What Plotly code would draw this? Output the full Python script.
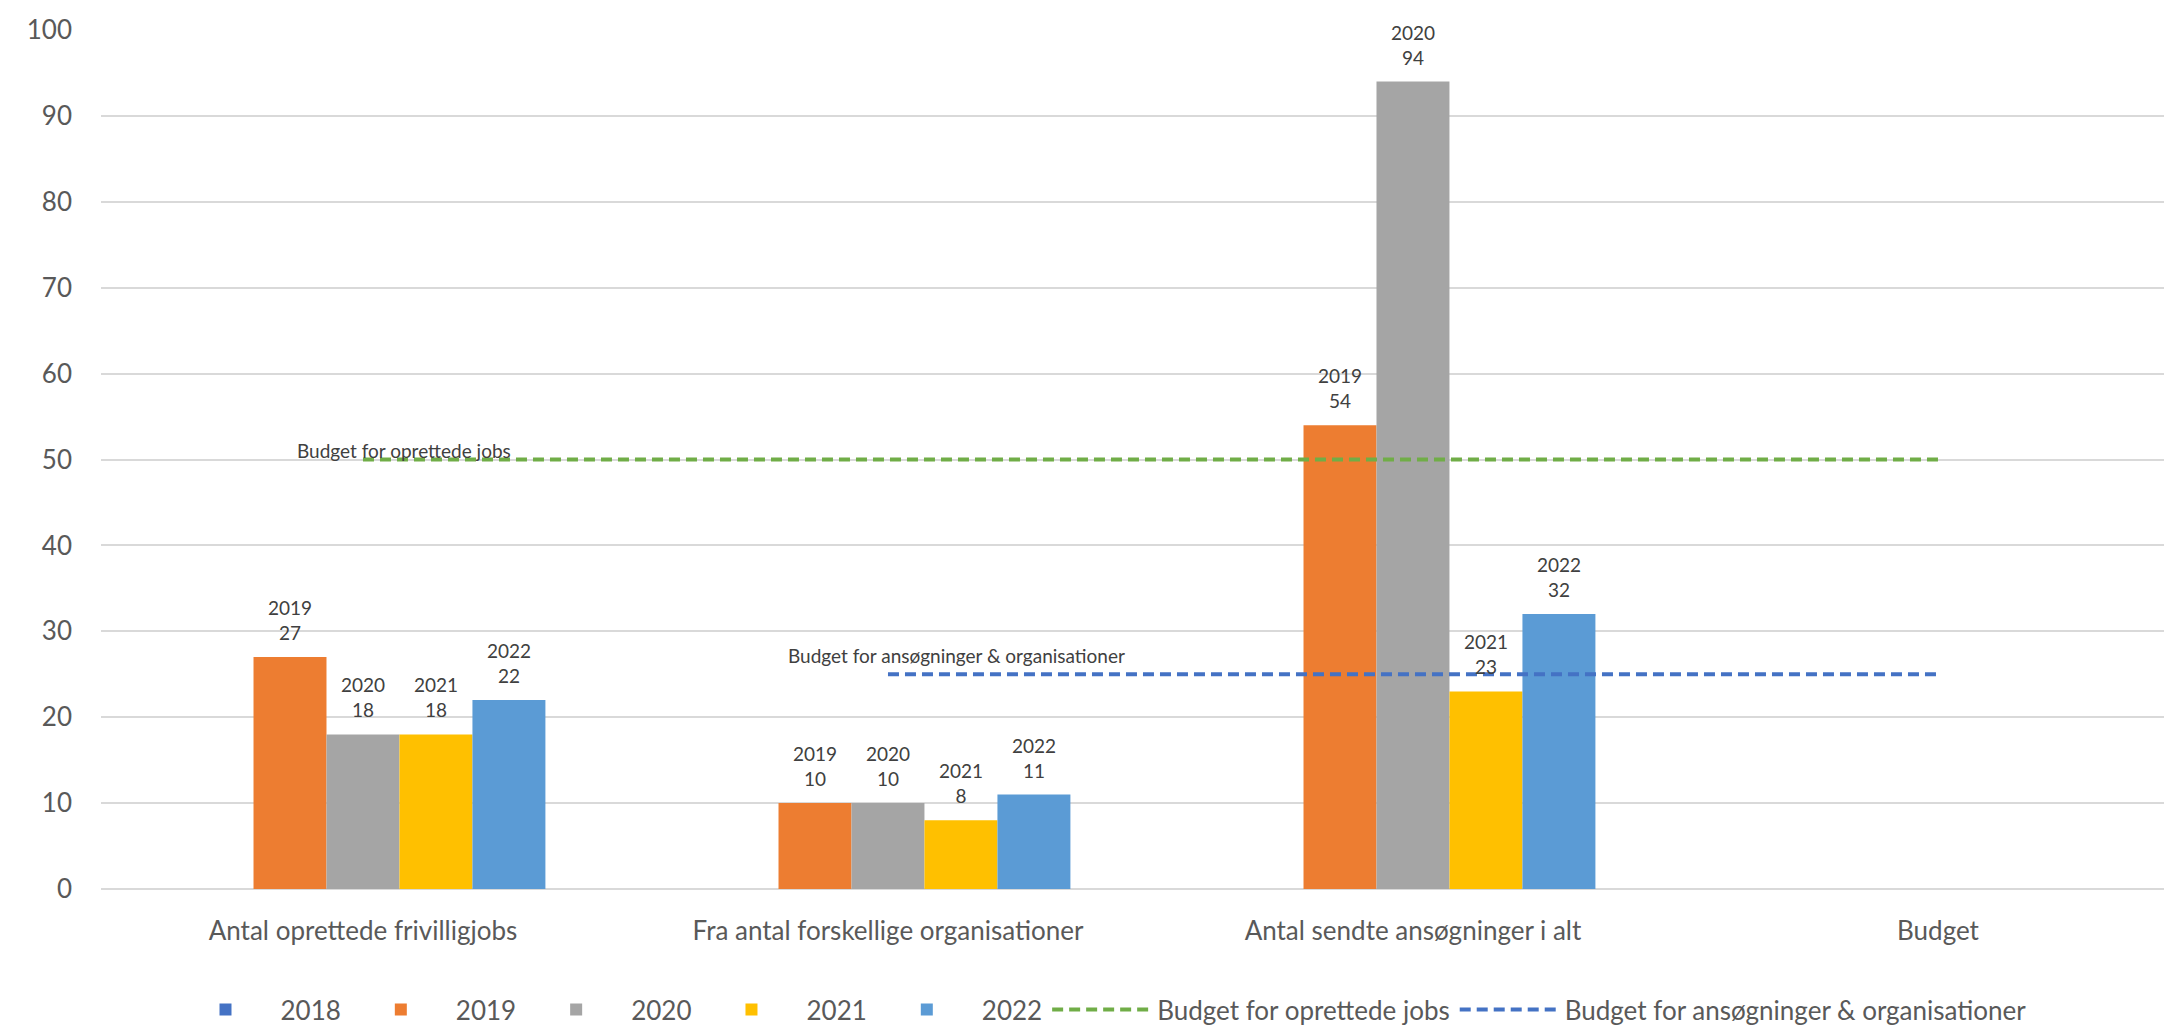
import plotly.graph_objects as go

categories = ["Antal oprettede frivilligjobs", "Fra antal forskellige organisationer",
              "Antal sendte ansøgninger i alt", "Budget"]
years = ["2018", "2019", "2020", "2021", "2022"]
v2018 = [None, None, None, None]
v2019 = [27, 10, 54, None]
v2020 = [18, 10, 94, None]
v2021 = [18, 8, 23, None]
v2022 = [22, 11, 32, None]
budget_jobs = [50, 50, 50, 50]
budget_org = [None, 25, 25, 25]
budget_jobs_name = "Budget for oprettede jobs"
budget_org_name = "Budget for ansøgninger & organisationer"

series = [v2018, v2019, v2020, v2021, v2022]
colors = ["#4472C4", "#ED7D31", "#A5A5A5", "#FFC000", "#5B9BD5"]

W, H = 2172, 1025
BARGAP = 0.305
FONT = "Lato"

fig = go.Figure()
for name, vals, col in zip(years, series, colors):
    fig.add_trace(go.Bar(x=categories, y=vals, name=name, marker_color=col,
                         marker_line_width=0, cliponaxis=False))

fig.add_trace(go.Scatter(x=categories, y=budget_jobs, name=budget_jobs_name, mode="lines",
                         line=dict(color="#70AD47", width=4, dash="11px,6px")))
fig.add_trace(go.Scatter(x=categories, y=budget_org, name=budget_org_name, mode="lines",
                         line=dict(color="#4472C4", width=4, dash="11px,6px")))

# bar data labels: "year<br>value" above each bar
n = len(years)
bw = (1 - BARGAP) / n
annotations = []
for si, (name, vals) in enumerate(zip(years, series)):
    for ci, v in enumerate(vals):
        if v is None:
            continue
        annotations.append(dict(x=ci + (si - (n - 1) / 2) * bw, y=v, xref="x", yref="y",
                                text=f"{name}<br>{v}", showarrow=False, yanchor="bottom",
                                yshift=11, font=dict(family=FONT, size=19, color="#404040")))

# line labels
first_jobs = next(i for i, v in enumerate(budget_jobs) if v is not None)
first_org = next(i for i, v in enumerate(budget_org) if v is not None)
annotations.append(dict(x=first_jobs, y=budget_jobs[first_jobs], xref="x", yref="y",
                        text=budget_jobs_name, showarrow=False, xanchor="left", yanchor="middle",
                        xshift=-68, yshift=9, font=dict(family=FONT, size=19, color="#404040")))
annotations.append(dict(x=first_org, y=budget_org[first_org], xref="x", yref="y",
                        text=budget_org_name, showarrow=False, xanchor="left", yanchor="middle",
                        xshift=-102, yshift=19, font=dict(family=FONT, size=19, color="#404040")))

fig.update_layout(
    width=W, height=H,
    margin=dict(l=93, r=0, t=22, b=144, autoexpand=False),
    paper_bgcolor="white", plot_bgcolor="white",
    barmode="group", bargap=BARGAP, bargroupgap=0,
    font=dict(family=FONT, color="#595959"),
    annotations=annotations,
    legend=dict(orientation="h", x=0.481, xanchor="center", yref="container", y=0.0,
                yanchor="bottom",
                font=dict(family=FONT, size=26, color="#595959"), itemwidth=100,
                traceorder="normal"),
    showlegend=True,
)
fig.update_xaxes(range=[-0.499, 3.461], showgrid=False, zeroline=False, showline=False,
                 ticks="", tickfont=dict(family=FONT, size=26, color="#595959"),
                 ticklabelstandoff=24, automargin=False)
fig.update_yaxes(range=[0, 100], dtick=10, showgrid=True, gridcolor="#D9D9D9", gridwidth=2,
                 zeroline=True, zerolinecolor="#D9D9D9", zerolinewidth=2, showline=False,
                 ticks="", tickfont=dict(family=FONT, size=26, color="#595959"),
                 ticklabelstandoff=28, automargin=False)

fig.write_html("out.html")
